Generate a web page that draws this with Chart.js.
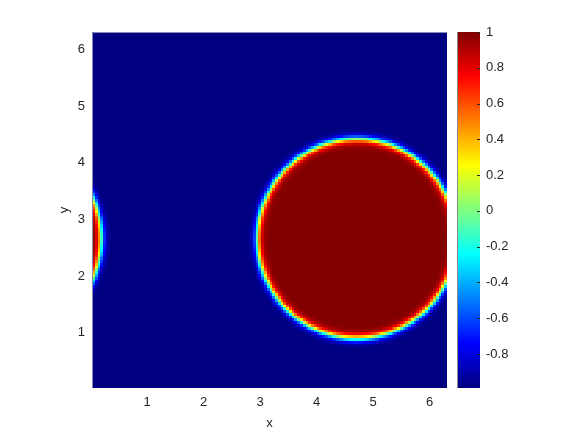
<!DOCTYPE html>
<html>
<head>
<meta charset="utf-8">
<script src="https://cdn.jsdelivr.net/npm/chart.js@4.4.1/dist/chart.umd.min.js"></script>
<style>
  html, body { margin: 0; padding: 0; background: #fff; }
  #wrap { position: relative; width: 581px; height: 436px; }
  #fieldChart { position: absolute; left: 0; top: 0; }
  #barChart { position: absolute; left: 457px; top: 0; }
</style>
</head>
<body>
<div id="wrap">
  <canvas id="fieldChart" width="581" height="436"></canvas>
  <canvas id="barChart" width="124" height="436"></canvas>
</div>
<script>
// values
var xTicks = [1, 2, 3, 4, 5, 6];
var yTicks = [1, 2, 3, 4, 5, 6];
var cbTicks = [-0.8, -0.6, -0.4, -0.2, 0, 0.2, 0.4, 0.6, 0.8, 1];
var colorLimits = [-0.99, 1];
var gridN = 128;                  // cells per side on [0, 2*pi]
var circleCenter = [4.71, 2.66];  // x, y of the drop
var circleRadius = 1.76;
var interfaceWidth = 0.075;

var L = 2 * Math.PI;
var h = L / gridN;
var textColor = '#262626';
var font = { family: 'Liberation Sans, Arial, sans-serif', size: 13 };

function jet(t) {
  t = Math.max(0, Math.min(1, t));
  function c(v) { return Math.round(255 * Math.max(0, Math.min(1, v))); }
  var r = c(Math.min(4 * t - 1.5, -4 * t + 4.5));
  var g = c(Math.min(4 * t - 0.5, -4 * t + 3.5));
  var b = c(Math.min(4 * t + 0.5, -4 * t + 2.5));
  return 'rgb(' + r + ',' + g + ',' + b + ')';
}

function colorFor(v) {
  var t = (v - colorLimits[0]) / (colorLimits[1] - colorLimits[0]);
  var k = Math.min(255, Math.max(0, Math.floor(t * 256)));
  return jet((k + 0.5) / 256);
}

// phase field on the periodic grid
var field = [];
for (var j = 0; j < gridN; j++) {
  var row = [];
  for (var i = 0; i < gridN; i++) {
    var dx = (i + 1) * h - circleCenter[0];
    var dy = (j + 1) * h - circleCenter[1];
    dx -= L * Math.round(dx / L);
    dy -= L * Math.round(dy / L);
    var d = Math.sqrt(dx * dx + dy * dy);
    row.push(Math.tanh((circleRadius - d) / interfaceWidth));
  }
  field.push(row);
}

var fieldPlugin = {
  id: 'fieldCells',
  beforeDatasetsDraw: function(chart) {
    var ctx = chart.ctx;
    var xs = chart.scales.x, ys = chart.scales.y;
    var area = chart.chartArea;
    ctx.save();
    for (var j = 0; j < gridN; j++) {
      var yc = (j + 1) * h;
      var yt = Math.round(ys.getPixelForValue(yc + h / 2));
      var yb = Math.round(ys.getPixelForValue(yc - h / 2));
      for (var i = 0; i < gridN; i++) {
        var xc = (i + 1) * h;
        var xl = Math.round(xs.getPixelForValue(xc - h / 2));
        var xr = Math.round(xs.getPixelForValue(xc + h / 2));
        ctx.fillStyle = colorFor(field[j][i]);
        ctx.fillRect(xl, yt, xr - xl, yb - yt);
      }
    }
    ctx.strokeStyle = '#8a8ab0';
    ctx.lineWidth = 1;
    ctx.beginPath();
    ctx.moveTo(area.left + 0.5, area.bottom);
    ctx.lineTo(area.left + 0.5, area.top + 0.5);
    ctx.lineTo(area.right, area.top + 0.5);
    ctx.stroke();
    ctx.restore();
  }
};

new Chart(document.getElementById('fieldChart').getContext('2d'), {
  type: 'scatter',
  data: { datasets: [{ data: [] }] },
  plugins: [fieldPlugin],
  options: {
    responsive: false,
    animation: false,
    layout: { padding: { left: 0, top: 32, right: 134, bottom: 0 } },
    plugins: { legend: { display: false }, tooltip: { enabled: false } },
    scales: {
      x: {
        type: 'linear',
        min: h / 2,
        max: L + h / 2,
        grid: { display: false, drawTicks: false },
        border: { display: false },
        afterBuildTicks: function(s) { s.ticks = xTicks.map(function(v) { return { value: v }; }); },
        afterFit: function(s) { s.height = 48; },
        ticks: { autoSkip: false, maxRotation: 0, padding: 7, color: textColor, font: font },
        title: { display: true, text: 'x', color: textColor, font: font, padding: { top: 0, bottom: 5 } }
      },
      y: {
        type: 'linear',
        min: h / 2,
        max: L + h / 2,
        grid: { display: false, drawTicks: false },
        border: { display: false },
        afterBuildTicks: function(s) { s.ticks = yTicks.map(function(v) { return { value: v }; }); },
        afterFit: function(s) { s.width = 92; },
        ticks: { autoSkip: false, padding: 7, color: textColor, font: font },
        title: { display: true, text: 'y', color: textColor, font: font, padding: { top: 57, bottom: 0 } }
      }
    }
  }
});

var barPlugin = {
  id: 'colorBar',
  beforeDatasetsDraw: function(chart) {
    var ctx = chart.ctx;
    var ys = chart.scales.y;
    var area = chart.chartArea;
    var span = colorLimits[1] - colorLimits[0];
    ctx.save();
    for (var k = 0; k < 256; k++) {
      var v0 = colorLimits[0] + span * k / 256;
      var v1 = colorLimits[0] + span * (k + 1) / 256;
      var y0 = Math.round(ys.getPixelForValue(v0));
      var y1 = Math.round(ys.getPixelForValue(v1));
      ctx.fillStyle = jet((k + 0.5) / 256);
      ctx.fillRect(area.left, y1, area.right - area.left, y0 - y1);
    }
    ctx.strokeStyle = '#8c8c8c';
    ctx.lineWidth = 1;
    ctx.beginPath();
    ctx.moveTo(area.left + 0.5, area.top);
    ctx.lineTo(area.left + 0.5, area.bottom);
    ctx.stroke();
    ctx.strokeStyle = textColor;
    ctx.beginPath();
    cbTicks.forEach(function(v) {
      var y = Math.round(ys.getPixelForValue(v)) + 0.5;
      ctx.moveTo(area.right - 3, y);
      ctx.lineTo(area.right, y);
    });
    ctx.stroke();
    ctx.restore();
  }
};

new Chart(document.getElementById('barChart').getContext('2d'), {
  type: 'scatter',
  data: { datasets: [{ data: [] }] },
  plugins: [barPlugin],
  options: {
    responsive: false,
    animation: false,
    layout: { padding: { left: 0, top: 32, right: 0, bottom: 48 } },
    plugins: { legend: { display: false }, tooltip: { enabled: false } },
    scales: {
      x: { display: false, min: 0, max: 1 },
      y: {
        type: 'linear',
        position: 'right',
        min: colorLimits[0],
        max: colorLimits[1],
        grid: { display: false, drawTicks: false },
        border: { display: false },
        afterBuildTicks: function(s) { s.ticks = cbTicks.map(function(v) { return { value: v }; }); },
        afterFit: function(s) { s.width = 101; },
        ticks: {
          autoSkip: false, padding: 6, color: textColor, font: font,
          callback: function(v) { return String(Math.round(v * 10) / 10); }
        }
      }
    }
  }
});
</script>
</body>
</html>
